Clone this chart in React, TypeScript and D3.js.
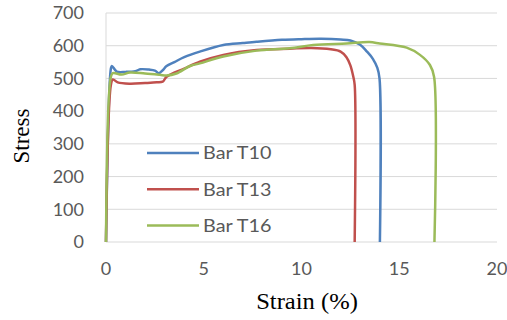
import React, { useEffect, useRef } from 'react';
import * as d3 from 'd3';

// strain (%) / stress readings for each bar
const strainT10 = [0, 0.25, 0.3, 0.55, 1.0, 1.5, 1.75, 2.2, 2.5, 2.7, 2.9, 3.1, 3.5, 4.0, 4.8, 6.0, 7.0, 7.7, 9.0, 10.0, 11.0, 12.0, 12.5, 13.0, 13.35, 13.65, 13.88, 13.99, 14.01];
const stressT10 = [0, 530, 538, 521, 520, 522, 528, 527, 524, 516, 525, 538, 550, 565, 582, 602, 608, 612, 618, 620, 621, 619, 616, 603, 582, 560, 532, 500, 0];

const strainT13 = [0, 0.25, 0.35, 0.6, 1.2, 2.0, 2.6, 2.9, 3.1, 4.0, 4.8, 6.0, 7.7, 9.4, 10.5, 11.5, 12.0, 12.3, 12.5, 12.65, 12.72, 12.72];
const stressT13 = [0, 480, 497, 488, 484, 486, 488, 490, 505, 530, 551, 572, 587, 591, 593, 589, 582, 565, 540, 505, 480, 0];

const strainT16 = [0, 0.25, 0.35, 0.8, 1.23, 2.0, 2.76, 3.1, 3.6, 4.3, 4.8, 6.0, 7.7, 9.4, 10.6, 12.3, 13.47, 14.0, 15.38, 16.06, 16.57, 16.78, 16.8];
const stressT16 = [0, 505, 516, 512, 518, 515, 511, 509, 515, 538, 546, 567, 585, 592, 602, 607, 611, 607, 594, 572, 541, 505, 0];

const seriesNames = ['Bar T10', 'Bar T13', 'Bar T16'];
const seriesColors = ['#4F81BD', '#C0504D', '#9BBB59'];
const yTicks = [0, 100, 200, 300, 400, 500, 600, 700];
const xTicks = [0, 5, 10, 15, 20];

function App() {
    const ref = useRef(null);

    useEffect(() => {
        const svg = d3.select(ref.current);
        svg.selectAll("*").remove();

        const x = d3.scaleLinear().domain([0, 20]).range([106, 497]);
        const y = d3.scaleLinear().domain([0, 700]).range([242, 13]);

        // grid
        svg.append("g")
            .selectAll("line")
            .data(yTicks.slice(1))
            .join("line")
            .attr("x1", x(0))
            .attr("x2", x(20))
            .attr("y1", d => y(d))
            .attr("y2", d => y(d))
            .attr("stroke", "#D9D9D9")
            .attr("stroke-width", 1);

        // axis lines
        svg.append("line")
            .attr("x1", x(0)).attr("x2", x(0))
            .attr("y1", y(700)).attr("y2", y(0))
            .attr("stroke", "#D9D9D9");
        svg.append("line")
            .attr("x1", x(0)).attr("x2", x(20))
            .attr("y1", y(0)).attr("y2", y(0))
            .attr("stroke", "#D9D9D9");

        const tickFont = "Lato, 'Liberation Sans', sans-serif";
        const serif = "'Liberation Serif', 'Times New Roman', serif";

        svg.append("g")
            .selectAll("text")
            .data(yTicks)
            .join("text")
            .attr("x", 84)
            .attr("y", d => y(d))
            .attr("dy", "0.35em")
            .attr("text-anchor", "end")
            .attr("font-family", tickFont)
            .attr("font-size", 18)
            .attr("fill", "#595959")
            .text(d => d);

        svg.append("g")
            .selectAll("text")
            .data(xTicks)
            .join("text")
            .attr("x", d => x(d))
            .attr("y", 275)
            .attr("text-anchor", "middle")
            .attr("font-family", tickFont)
            .attr("font-size", 18)
            .attr("fill", "#595959")
            .text(d => d);

        const data = [
            strainT10.map((s, i) => [s, stressT10[i]]),
            strainT13.map((s, i) => [s, stressT13[i]]),
            strainT16.map((s, i) => [s, stressT16[i]]),
        ];

        const line = d3.line()
            .x(d => x(d[0]))
            .y(d => y(d[1]))
            .curve(d3.curveCatmullRom.alpha(0.5));

        svg.append("g")
            .selectAll("path")
            .data(data)
            .join("path")
            .attr("d", d => line(d))
            .attr("fill", "none")
            .attr("stroke", (d, i) => seriesColors[i])
            .attr("stroke-width", 2.5)
            .attr("stroke-linejoin", "round");

        // legend
        const legend = svg.append("g")
            .selectAll("g")
            .data(seriesNames)
            .join("g")
            .attr("transform", (d, i) => `translate(147,${153 + i * 36.3})`);
        legend.append("line")
            .attr("x1", 0).attr("x2", 52)
            .attr("stroke", (d, i) => seriesColors[i])
            .attr("stroke-width", 2.5);
        legend.append("text")
            .attr("transform", "translate(56,0) scale(1.1,1)")
            .attr("dy", "0.35em")
            .attr("font-family", tickFont)
            .attr("font-size", 18)
            .attr("fill", "#595959")
            .text(d => d);

        // axis titles
        svg.append("text")
            .attr("transform", "translate(29,136) rotate(-90)")
            .attr("text-anchor", "middle")
            .attr("font-family", serif)
            .attr("font-size", 23)
            .attr("fill", "#000")
            .text("Stress");
        svg.append("text")
            .attr("transform", "translate(307,309) scale(1.07,1)")
            .attr("text-anchor", "middle")
            .attr("font-family", serif)
            .attr("font-size", 23)
            .attr("fill", "#000")
            .text("Strain (%)");
    }, []);

    return (
        <svg
            ref={ref}
            width={507}
            height={320}
            style={{ position: 'absolute', left: 0, top: 0, background: '#fff' }}
        />
    );
}

export default App;
